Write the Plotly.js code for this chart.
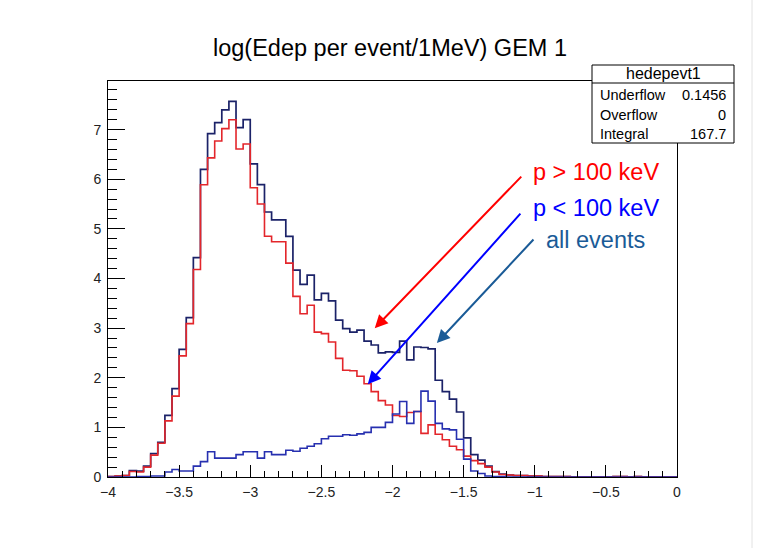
<!DOCTYPE html>
<html>
<head>
<meta charset="utf-8">
<script src="https://cdn.plot.ly/plotly-3.0.1.min.js"></script>
<style>
html,body{margin:0;padding:0;background:#fff;}
#chart{width:763px;height:548px;}
</style>
</head>
<body>
<div id="chart"></div>
<script>
// Histogram binning: 80 bins from -4 to 0
const xMin = -4, xMax = 0, nBins = 80;

// p > 100 keV (red)
const pHigh = [
 0.01,0.02,0.03,0.11,0.10,0.20,0.44,0.68,1.13,1.63,
 2.44,3.09,4.18,5.89,6.43,6.77,7.02,7.20,6.61,6.71,
 5.83,5.50,4.85,4.74,4.74,4.31,3.64,3.29,3.46,2.92,
 2.89,2.72,2.39,2.15,2.14,2.03,1.88,1.72,1.54,1.45,
 1.24,1.22,1.30,1.32,0.88,1.05,0.86,0.75,0.62,0.55,
 0.42,0.33,0.27,0.20,0.10,0.05,0.04,0.03,0.03,0.02,
 0.02,0.01,0.01,0.01,0.01,0,0,0,0,0,
 0,0.01,0.01,0,0.01,0,0,0,0,0
];

// p < 100 keV (blue)
const pLow = [
 0,0,0,0,0.01,0.01,0.02,0.02,0.10,0.15,
 0.12,0.12,0.22,0.31,0.51,0.38,0.38,0.38,0.45,0.51,
 0.51,0.38,0.51,0.45,0.45,0.54,0.52,0.58,0.62,0.67,
 0.77,0.82,0.82,0.85,0.84,0.87,0.90,1.00,1.00,1.10,
 1.27,1.52,1.08,1.32,1.73,1.53,1.08,0.97,0.95,0.76,
 0.36,0.12,0.07,0.02,0.01,0.01,0,0,0,0,
 0,0,0,0,0,0,0,0,0,0,
 0,0,0,0,0,0,0,0,0,0
];

// all events (dark navy)
const allEv = [
 0.01,0.02,0.03,0.13,0.12,0.22,0.47,0.70,1.24,1.78,
 2.57,3.21,4.42,6.20,6.92,7.14,7.40,7.57,7.04,7.20,
 6.31,5.89,5.34,5.18,5.18,4.85,4.17,3.88,4.07,3.57,
 3.70,3.55,3.16,2.99,2.92,2.96,2.74,2.66,2.50,2.52,
 2.51,2.74,2.36,2.62,2.61,2.58,1.95,1.72,1.57,1.31,
 0.79,0.45,0.34,0.22,0.11,0.06,0.04,0.03,0.03,0.02,
 0.02,0.01,0.01,0.01,0.01,0,0,0,0,0,
 0,0.01,0.01,0,0.01,0,0,0,0,0
];

const statsTitle = "hedepevt1";
const statsNames = ["Underflow","Overflow","Integral"];
const statsValues = ["0.1456","0","167.7"];

const labels = ["p > 100 keV","p < 100 keV","all events"];

function stepXY(vals){
  const bw = (xMax - xMin)/nBins;
  const xs = [], ys = [];
  xs.push(xMin); ys.push(0);
  for(let i=0;i<vals.length;i++){ xs.push(xMin + i*bw); ys.push(vals[i]); }
  xs.push(xMax); ys.push(vals[vals.length-1]);
  xs.push(xMax); ys.push(0);
  return {x:xs, y:ys};
}

const cAll = '#1b2268', cHigh = '#e3262b', cLow = '#2730b0';
const sA = stepXY(allEv), sH = stepXY(pHigh), sL = stepXY(pLow);
const traces = [
  {x:sA.x, y:sA.y, mode:'lines', line:{shape:'hv', color:cAll, width:1.7}, hoverinfo:'skip'},
  {x:sH.x, y:sH.y, mode:'lines', line:{shape:'hv', color:cHigh, width:1.6}, hoverinfo:'skip'},
  {x:sL.x, y:sL.y, mode:'lines', line:{shape:'hv', color:cLow, width:1.6}, hoverinfo:'skip'}
];

// pixel->paper helpers (plot area: x 108..677, y 81..477)
const L=108, R=677, T=81, B=477;
const px = v => (v-L)/(R-L);
const py = v => (B-v)/(B-T);

const fontFam = '"Liberation Sans", Arial, Helvetica, sans-serif';

const annotations = [
  {text:labels[0], xref:'paper', yref:'paper', x:px(596), y:py(172), showarrow:false, xanchor:'center', yanchor:'middle', font:{family:fontFam, size:23.5, color:'#ff0000'}},
  {text:labels[1], xref:'paper', yref:'paper', x:px(596), y:py(208), showarrow:false, xanchor:'center', yanchor:'middle', font:{family:fontFam, size:23.5, color:'#0000ff'}},
  {text:labels[2], xref:'paper', yref:'paper', x:px(595.5), y:py(240), showarrow:false, xanchor:'center', yanchor:'middle', font:{family:fontFam, size:23.5, color:'#1a5b97'}},
  {text:'', x:-2.125, y:3.0, xref:'x', yref:'y', ax:148, ay:-153, showarrow:true, arrowhead:2, arrowsize:1.3, arrowwidth:2, arrowcolor:'#ff0000', standoff:0},
  {text:'', x:-2.174, y:1.87, xref:'x', yref:'y', ax:154, ay:-172, showarrow:true, arrowhead:2, arrowsize:1.3, arrowwidth:2, arrowcolor:'#0000ff', standoff:0},
  {text:'', x:-1.688, y:2.70, xref:'x', yref:'y', ax:98, ay:-105, showarrow:true, arrowhead:2, arrowsize:1.3, arrowwidth:2, arrowcolor:'#1a5b97', standoff:0},
  // stats box text
  {text:statsTitle, xref:'paper', yref:'paper', x:px(663), y:py(73.5), showarrow:false, xanchor:'center', yanchor:'middle', font:{family:fontFam, size:16, color:'#000'}}
];
const rowY = [95, 115, 134];
for(let i=0;i<statsNames.length;i++){
  annotations.push({text:statsNames[i], xref:'paper', yref:'paper', x:px(598), y:py(rowY[i]), showarrow:false, xanchor:'left', yanchor:'middle', font:{family:fontFam, size:14.5, color:'#000'}});
  annotations.push({text:statsValues[i], xref:'paper', yref:'paper', x:px(728), y:py(rowY[i]), showarrow:false, xanchor:'right', yanchor:'middle', font:{family:fontFam, size:14.5, color:'#000'}});
}

const shapes = [
  {type:'rect', xref:'paper', yref:'paper', x0:px(592), x1:px(734), y0:py(143), y1:py(65), line:{color:'#000', width:1}, fillcolor:'#fff', layer:'above'},
  {type:'line', xref:'paper', yref:'paper', x0:px(592), x1:px(734), y0:py(83), y1:py(83), line:{color:'#000', width:1}, layer:'above'},
  // faint page edge line at right of the screenshot
  {type:'line', xref:'paper', yref:'paper', x0:px(752), x1:px(752), y0:py(548), y1:py(0), line:{color:'#e2e2e2', width:1}, layer:'above'}
];

const layout = {
  width:763, height:548,
  margin:{l:L, r:763-R, t:T, b:548-B, pad:0},
  paper_bgcolor:'#fff', plot_bgcolor:'#fff',
  showlegend:false,
  font:{family:fontFam, color:'#000'},
  title:{text:'log(Edep per event/1MeV) GEM 1', x:390/763, xref:'container', xanchor:'center', y:1-48/548, yref:'container', yanchor:'middle', font:{family:fontFam, size:23.5, color:'#000'}},
  xaxis:{range:[xMin, xMax], dtick:0.5, tick0:-4, ticks:'inside', ticklen:12, tickwidth:1, tickcolor:'#000',
    minor:{dtick:0.1, ticks:'inside', ticklen:6, tickcolor:'#000', tickwidth:1},
    showline:true, linecolor:'#000', linewidth:1, mirror:true, showgrid:false, zeroline:false,
    tickfont:{family:fontFam, size:14, color:'#222'}, ticklabelstandoff:2, fixedrange:true},
  yaxis:{range:[0, 7.98], dtick:1, tick0:0, ticks:'inside', ticklen:17, tickwidth:1, tickcolor:'#000',
    minor:{dtick:0.2, ticks:'inside', ticklen:9, tickcolor:'#000', tickwidth:1},
    showline:true, linecolor:'#000', linewidth:1, mirror:true, showgrid:false, zeroline:false,
    tickfont:{family:fontFam, size:14, color:'#222'}, ticklabelstandoff:3, fixedrange:true},
  annotations:annotations,
  shapes:shapes
};

Plotly.newPlot('chart', traces, layout, {displayModeBar:false, staticPlot:true});
</script>
</body>
</html>
